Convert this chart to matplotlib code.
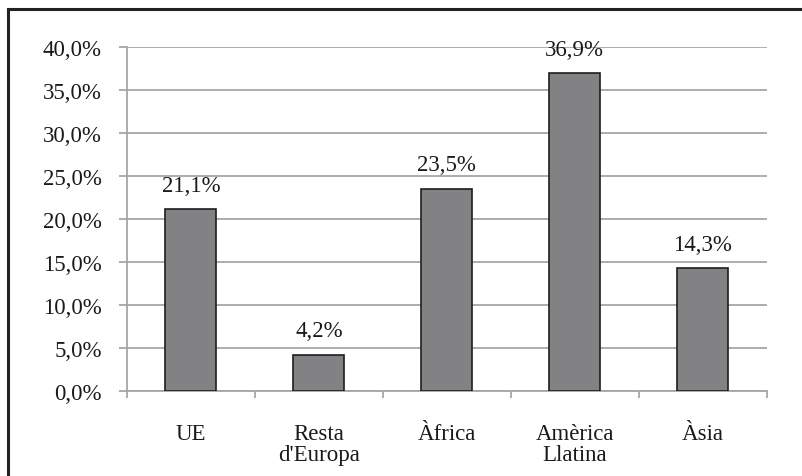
import matplotlib
matplotlib.use("Agg")
import matplotlib.pyplot as plt
from matplotlib.lines import Line2D
from matplotlib.ticker import MultipleLocator, FuncFormatter

regions = ["UE", "Resta\nd'Europa", "Àfrica", "Amèrica\nLlatina", "Àsia"]
shares = [21.1, 4.2, 23.5, 36.9, 14.3]

plt.rcParams['font.family'] = ['Liberation Serif', 'DejaVu Serif']

fig = plt.figure(figsize=(8.03, 4.77), dpi=100)
ax = fig.add_axes([0.158, 0.1788, 0.797, 0.7212])

grid_col = '#a6a6a6'
fs = 16.5
x = list(range(len(regions)))
ax.bar(x, shares, width=0.4, color='#828285', edgecolor='#1e1e1e', linewidth=1.2, zorder=3)

for xi, v in zip(x, shares):
    ax.annotate(f"{v:.1f}%".replace('.', ','), (xi, v), xytext=(0, 9.5),
                textcoords='offset points', ha='center', va='bottom',
                fontsize=fs, color='#1a1a1a')

ax.set_xlim(-0.5, len(regions) - 0.5)
ax.set_ylim(0, 40)
ax.yaxis.set_major_locator(MultipleLocator(5))
ax.yaxis.set_major_formatter(FuncFormatter(lambda v, p: f"{v:.1f}%".replace('.', ',')))
ax.set_xticks([i - 0.5 for i in range(len(regions) + 1)])
ax.set_xticklabels([])
ax.set_xticks(x, minor=True)
ax.set_xticklabels(regions, minor=True, linespacing=1.05)

ax.yaxis.grid(True, color=grid_col, linewidth=1.3, zorder=0)
ax.set_axisbelow(True)
for s in ['top', 'right']:
    ax.spines[s].set_visible(False)
for s in ['left', 'bottom']:
    ax.spines[s].set_color(grid_col)
    ax.spines[s].set_linewidth(1.3)

ax.tick_params(axis='y', which='major', length=6, width=1.3, color=grid_col,
               labelsize=fs, labelcolor='#1a1a1a', pad=12)
ax.tick_params(axis='x', which='major', length=5, width=1.3, color=grid_col)
ax.tick_params(axis='x', which='minor', length=0, labelsize=fs,
               labelcolor='#1a1a1a', pad=23)

# outer frame (top and left only)
fig.add_artist(Line2D([0.0100, 1.0], [0.978, 0.978], transform=fig.transFigure,
                      color='#222222', linewidth=2.2))
fig.add_artist(Line2D([0.0100, 0.0100], [0.0, 0.978], transform=fig.transFigure,
                      color='#222222', linewidth=2.2))

fig.savefig("out.png", dpi=100)
